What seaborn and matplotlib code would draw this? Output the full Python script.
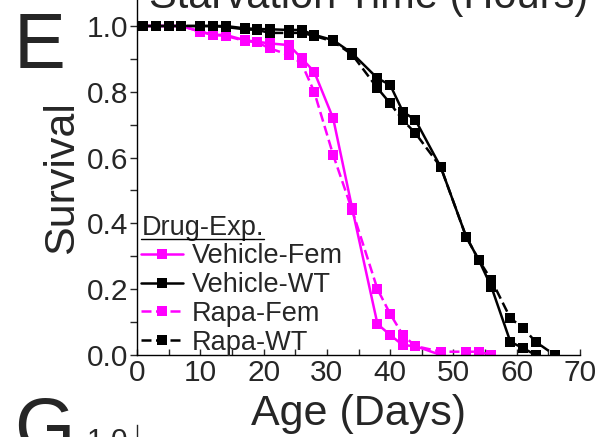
import numpy as np
import pandas as pd
import matplotlib
matplotlib.use("Agg")
import matplotlib.pyplot as plt
import seaborn as sns
from matplotlib.lines import Line2D
from matplotlib.ticker import MultipleLocator

# ---- data ----
series_names = ["Vehicle-Fem", "Vehicle-WT", "Rapa-Fem", "Rapa-WT"]

days_fem_vehicle = [1, 3, 5, 7, 10, 12, 14, 17, 19, 21, 24, 26, 28, 31, 34, 38, 40, 42, 44, 48]
surv_fem_vehicle = [1.0, 1.0, 1.0, 1.0, 0.983, 0.973, 0.973, 0.957, 0.952, 0.947, 0.942, 0.902,
                    0.861, 0.719, 0.446, 0.094, 0.061, 0.030, 0.027, 0.0]

days_wt_vehicle = [1, 3, 5, 7, 10, 12, 14, 17, 19, 21, 24, 26, 28, 31, 34, 38, 40, 42, 44, 48,
                   52, 54, 56, 59, 61, 63]
surv_wt_vehicle = [1.0, 1.0, 1.0, 1.0, 1.0, 1.0, 1.0, 0.993, 0.991, 0.99, 0.988, 0.988, 0.973,
                   0.957, 0.917, 0.841, 0.821, 0.740, 0.714, 0.571, 0.360, 0.289, 0.207, 0.040,
                   0.021, 0.0]

days_fem_rapa = [1, 3, 5, 7, 10, 12, 14, 17, 19, 21, 24, 26, 28, 31, 34, 38, 40, 42, 44, 48,
                 52, 54, 56]
surv_fem_rapa = [1.0, 1.0, 1.0, 1.0, 0.983, 0.973, 0.970, 0.955, 0.950, 0.932, 0.912, 0.887,
                 0.800, 0.608, 0.440, 0.200, 0.125, 0.061, 0.027, 0.010, 0.010, 0.010, 0.0]

days_wt_rapa = [1, 3, 5, 7, 10, 12, 14, 17, 19, 21, 24, 26, 28, 31, 34, 38, 40, 42, 44, 48,
                52, 54, 56, 59, 61, 63, 66]
surv_wt_rapa = [1.0, 1.0, 1.0, 1.0, 1.0, 1.0, 0.997, 0.99, 0.988, 0.979, 0.979, 0.979, 0.970,
                0.953, 0.913, 0.811, 0.765, 0.714, 0.674, 0.571, 0.360, 0.289, 0.228, 0.112,
                0.082, 0.040, 0.0]

x_ticks = [0, 10, 20, 30, 40, 50, 60, 70]
y_ticks = [0.0, 0.2, 0.4, 0.6, 0.8, 1.0]
y_tick_labels = ["0.0", "0.2", "0.4", "0.6", "0.8", "1.0"]

frames = []
for name, d, s in [("Vehicle-Fem", days_fem_vehicle, surv_fem_vehicle),
                   ("Vehicle-WT", days_wt_vehicle, surv_wt_vehicle),
                   ("Rapa-Fem", days_fem_rapa, surv_fem_rapa),
                   ("Rapa-WT", days_wt_rapa, surv_wt_rapa)]:
    frames.append(pd.DataFrame({"Age": d, "Survival": s, "Group": name}))
df = pd.concat(frames, ignore_index=True)

# ---- style ----
sns.set_style("ticks")
plt.rcParams["font.family"] = ["Liberation Sans", "DejaVu Sans"]

MAG = "#FF00FF"
palette = {"Vehicle-Fem": MAG, "Vehicle-WT": "black", "Rapa-Fem": MAG, "Rapa-WT": "black"}
dashes = {"Vehicle-Fem": "", "Vehicle-WT": "", "Rapa-Fem": (4, 1.8), "Rapa-WT": (4, 1.8)}
markers = {k: "s" for k in series_names}

W, H = 602, 437
fig = plt.figure(figsize=(W / 100, H / 100), dpi=100)
fig.patch.set_facecolor("white")

ax = fig.add_axes([137 / W, 1 - 355 / H, 443 / W, 355 / H])
sns.lineplot(data=df, x="Age", y="Survival", hue="Group", style="Group",
             hue_order=series_names, style_order=series_names,
             palette=palette, dashes=dashes, markers=markers,
             markersize=6.5, markeredgewidth=0, linewidth=1.8,
             errorbar=None, ax=ax)

ax.set_xlim(0, 70)
ax.set_ylim(0, 355 / 329)
for sp in ["top", "right"]:
    ax.spines[sp].set_visible(False)
for sp in ["left", "bottom"]:
    ax.spines[sp].set_linewidth(1.0)
    ax.spines[sp].set_color("black")

ax.set_xticks(x_ticks)
ax.set_xticklabels([str(t) for t in x_ticks])
ax.xaxis.set_minor_locator(MultipleLocator(5))
ax.set_yticks(y_ticks)
ax.set_yticklabels(y_tick_labels)
ax.yaxis.set_minor_locator(MultipleLocator(0.1))
ax.tick_params(axis="x", which="both", direction="in", length=4, width=1, labelsize=21.5, pad=3)
ax.tick_params(axis="y", which="both", direction="out", length=5, width=1, labelsize=21.5, pad=1.5)

ax.set_xlabel("Age (Days)", fontsize=31, labelpad=5)
ax.set_ylabel("Survival", fontsize=31, labelpad=3)

handles, labels = ax.get_legend_handles_labels()
hl = [(h, l) for h, l in zip(handles, labels) if l in series_names]
leg = ax.legend([h for h, l in hl], [l for h, l in hl], title="Drug-Exp.",
                loc="upper left", bbox_to_anchor=(0.01, 0.395), frameon=False,
                fontsize=19.5, title_fontsize=19.5, alignment="left",
                handlelength=1.55, handletextpad=0.3, labelspacing=0.1,
                borderpad=0, borderaxespad=0)

# panel G fragment at the bottom
ax2 = fig.add_axes([137 / W, -1.0, 443 / W, 1.0 + 12 / H])
ax2.set_ylim(0, 1.03)
ax2.set_xlim(0, 70)
for sp in ["top", "right", "bottom"]:
    ax2.spines[sp].set_visible(False)
ax2.spines["left"].set_linewidth(1.0)
ax2.set_xticks([])
ax2.set_yticks([1.0])
ax2.set_yticklabels(["1.0"])
ax2.tick_params(axis="y", direction="out", length=5, width=1, labelsize=21.5, pad=1.5)
ax2.patch.set_alpha(0)

# texts
fig.text(14 / W, 1 - 68 / H, "E", fontsize=56, va="baseline", ha="left")
fig.text(14 / W, 1 - 452 / H, "G", fontsize=56, va="baseline", ha="left")
fig.text(369 / W, 1 - 8 / H, "Starvation Time (Hours)", fontsize=30, va="baseline", ha="center")

# underline legend title
fig.canvas.draw()
bb = leg.get_title().get_window_extent()
inv = fig.transFigure.inverted()
(x0, y0), (x1, _) = inv.transform([(bb.x0, bb.y0 + 2), (bb.x1, bb.y0 + 2)])
fig.add_artist(Line2D([x0, x1], [y0, y0], color="black", lw=1.0, transform=fig.transFigure))

fig.savefig("out.png", dpi=100)
